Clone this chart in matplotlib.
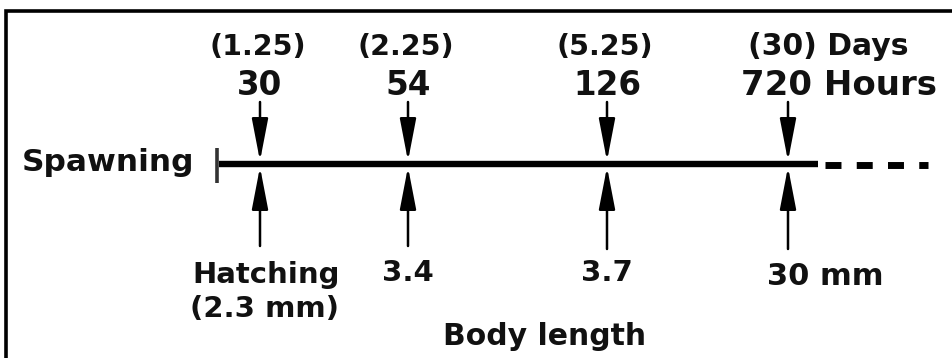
import matplotlib
matplotlib.use("Agg")
import matplotlib.pyplot as plt

# ---- data ----
days = [1.25, 2.25, 5.25, 30]          # age in days
hours = [30, 54, 126, 720]             # age in hours
lengths = [2.3, 3.4, 3.7, 30]          # body length (mm)
start_label = "Spawning"
axis_label = "Body length"

# ---- layout (pixels) ----
W, H = 953, 358
x_pos = [260, 408, 607, 788]
line_y = 164
line_x0, line_x1, dash_x1 = 219, 818, 928

fig = plt.figure(figsize=(W / 100, H / 100), dpi=100)
ax = fig.add_axes([0, 0, 1, 1])
ax.set_xlim(0, W)
ax.set_ylim(H, 0)
ax.axis("off")

font = dict(family="DejaVu Sans", weight="bold", color="#111111")

# frame (top and left borders)
ax.plot([6.5, 6.5, W], [H, 10.5, 10.5], color="black", lw=2.6,
        solid_joinstyle="miter", solid_capstyle="butt")

# timeline
ax.plot([line_x0, line_x1], [line_y, line_y], color="black", lw=4.6,
        solid_capstyle="butt")
ax.plot([line_x1 + 7, dash_x1], [line_y + 1, line_y + 1], color="black",
        lw=5.0, linestyle=(0, (2.3, 2.2)), dash_capstyle="butt")
ax.plot([217, 217], [148, 183], color="#333333", lw=2.6, solid_capstyle="butt")

ax.text(22, 171, start_label, fontsize=22.5, va="baseline", ha="left", **font)

arrow_kw = dict(arrowstyle="-|>,head_length=2.6,head_width=0.5",
                color="black", lw=1.8, shrinkA=0, shrinkB=0, mutation_scale=10)

for i, x in enumerate(x_pos):
    # downward arrow from top
    ax.annotate("", xy=(x, 161), xytext=(x, 102), arrowprops=arrow_kw)
    # upward arrow from below
    ax.annotate("", xy=(x, 167), xytext=(x, 246 if i < 2 else 249),
                arrowprops=arrow_kw)

    last = i == len(x_pos) - 1
    d = days[i]
    d_txt = f"({d:g})"
    h_txt = f"{hours[i]}"
    if last:
        ax.text(748, 55, d_txt + " Days", fontsize=21.5, va="baseline",
                ha="left", **font)
        ax.text(741, 95, h_txt + " Hours", fontsize=24.5, va="baseline",
                ha="left", **font)
    else:
        ax.text(x - 2, 55, d_txt, fontsize=20.5, va="baseline", ha="center", **font)
        ax.text(x, 95, h_txt, fontsize=23.5, va="baseline", ha="center", **font)

    L = lengths[i]
    if i == 0:
        ax.text(x + 6, 283, "Hatching", fontsize=21, va="baseline", ha="center", **font)
        ax.text(x + 5, 317, f"({L:g} mm)", fontsize=21, va="baseline", ha="center", **font)
    elif last:
        ax.text(767, 285, f"{L:g} mm", fontsize=22, va="baseline", ha="left", **font)
    else:
        ax.text(x, 281, f"{L:g}", fontsize=21, va="baseline", ha="center", **font)

ax.text(443, 345, axis_label, fontsize=21.5, va="baseline", ha="left", **font)

fig.savefig("out.png", dpi=100)
